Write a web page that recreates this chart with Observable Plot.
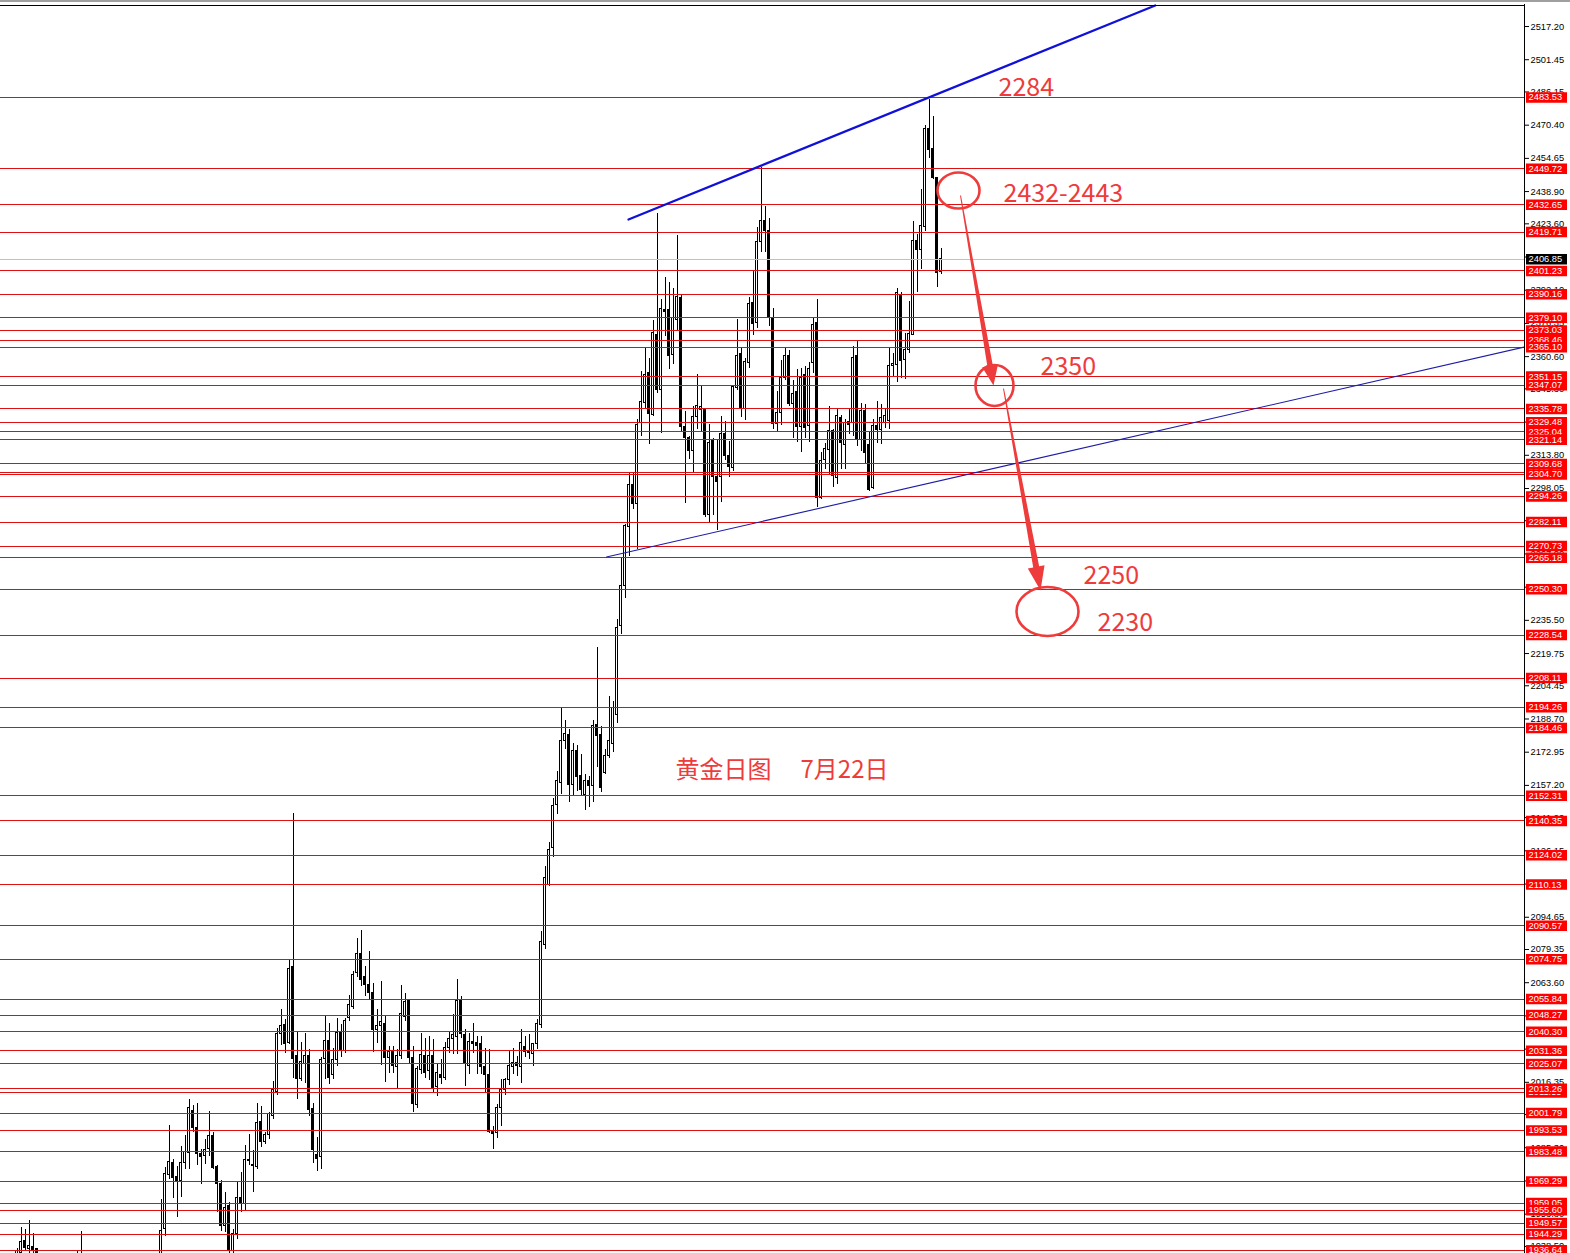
<!DOCTYPE html>
<html>
<head>
<meta charset="utf-8">
<script src="https://cdn.jsdelivr.net/npm/d3@7"></script>
<script src="https://cdn.jsdelivr.net/npm/@observablehq/plot@0.6"></script>
<style>
html, body { margin: 0; padding: 0; background: #fff; }
body {
  width: 1570px; height: 1253px; overflow: hidden;
  background: linear-gradient(to bottom, #a0a0a0 0, #a0a0a0 2px, #ffffff 2px, #ffffff 100%) no-repeat;
}
#chart svg { display: block; }
</style>
</head>
<body>
<div id="chart"></div>
<script>
// ---------- DATA ----------
// candle index (one per trading day, 4 px apart on the MT4 chart)
const candleIndex = [4,5,6,7,8,9,19,20,
  40,41,42,43,44,45,46,47,48,49,50,51,52,53,54,55,56,57,58,59,60,61,62,63,64,65,66,67,68,69,
  70,71,72,73,74,75,76,77,78,79,80,81,82,83,84,85,86,87,88,89,90,91,92,93,94,95,96,97,98,99,
  100,101,102,103,104,105,106,107,108,109,110,111,112,113,114,115,116,117,118,119,
  120,121,122,123,124,125,126,127,128,129,130,131,132,133,134,135,136,137,138,139,
  140,141,142,143,144,145,146,147,148,149,150,151,152,153,154,155,156,157,158,159,
  160,161,162,163,164,165,166,167,168,169,170,171,172,173,174,175,176,177,178,179,
  180,181,182,183,184,185,186,187,188,189,190,191,192,193,194,195,196,197,198,199,
  200,201,202,203,204,205,206,207,208,209,210,211,212,213,214,215,216,217,218,219,
  220,221,222,223,224,225,226,227,228,229,230,231,232,233,234,235];

const openPrice = [1926,1935.5,1941.1,1937.5,1938.2,1937.1,1928,1920,
  1922,1946.6,1972.2,1978,1971.6,1969.4,1978.3,1983.0,2002.8,1994.5,1982.3,1981.5,1984.6,1990.9,1976.4,1968.0,1948.2,1957.7,1936.3,1944.2,1961.7,1958.5,1979.6,1976.8,1976.4,1997.3,1987.8,1991.3,2000.5,2011.9,
  2039.3,2043.6,2035.0,2071.0,2028.7,2018.0,2025.0,2028.6,2003.8,1982.0,1981.0,2027.3,2036.0,2019.9,2027.0,2039.9,2031.4,2046.8,2052.3,2068.1,2077.3,2066.2,2062.6,2058.6,2041.2,2043.1,2043.9,2027.8,2030.5,2023.5,
  2028.6,2047.5,2055.0,2027.8,2005.6,2022.3,2028.9,2021.5,2028.9,2014.3,2019.9,2018.5,2032.5,2037.0,2038.0,2054.7,2038.8,2024.3,2035.4,2034.9,
  2034.6,2023.8,2019.9,1993.0,1992.2,2004.1,2012.8,2017.5,2023.8,2025.4,2023.8,2033.3,2030.9,2029.7,2034.4,2043.6,2081.6,2110.1,2127.5,2147.7,
  2158.3,2178.1,2181.3,2157.5,2173.7,2161.5,2152.5,2159.1,2156.8,2186.0,2180.9,2163.1,2171.0,2176.8,2190.7,2233.0,2252.0,2280.0,2299.8,2290.6,
  2329.0,2338.5,2352.7,2332.7,2370.9,2345.0,2382.8,2382.8,2361.4,2378.0,2388.3,2327.1,2321.9,2315.6,2332.2,2335.3,2335.6,2285.4,2320.5,2303.6,
  2303.6,2323.9,2313.6,2307.6,2345.5,2361.8,2335.6,2357.4,2386.1,2376.7,2415.0,2425.0,2420.0,2379.0,2328.6,2334.0,2350.7,2360.8,2338.0,2344.0,
  2327.3,2352.0,2327.5,2357.6,2376.5,2293.5,2311.7,2316.4,2325.2,2303.0,2331.5,2318.8,2329.4,2329.1,2360.7,2321.2,2334.6,2318.8,2298.3,2327.5,
  2325.9,2329.1,2329.9,2356.3,2356.8,2390.0,2359.1,2363.9,2371.0,2415.3,2411.3,2422.1,2468.5,2459.1,2445.3,2400.9];

const highPrice = [1937.5,1947.4,1946.5,1951.0,1944.6,1937.5,1936.5,1945.8,
  1960.9,1975.9,1995.7,1979.5,1976.4,1985.9,1991.3,2008.4,2005.2,2006.3,1984.6,1989.4,2002.4,1992.6,1977.0,1969.6,1964.0,1959.3,1946.6,1969.1,1973.6,1986.2,1991.8,1983.8,2006.3,2004.9,1992.6,2002.1,2016.6,2041.7,
  2050.7,2046.1,2074.1,2143.7,2040.1,2035.4,2039.6,2031.7,2006.5,1990.0,2028.0,2047.5,2044.4,2032.5,2046.8,2043.6,2046.8,2057.4,2068.9,2084.7,2088.2,2071.3,2078.4,2063.4,2050.7,2064.1,2047.5,2033.3,2033.3,2031.7,
  2062.1,2058.3,2055.5,2033.3,2023.8,2039.3,2037.3,2038.0,2036.5,2025.4,2027.0,2035.2,2040.0,2048.3,2065.2,2057.0,2041.2,2039.6,2044.4,2038.1,
  2038.1,2032.5,2031.7,1995.4,2005.6,2017.5,2018.0,2030.9,2032.5,2028.6,2041.2,2038.1,2038.8,2034.9,2046.0,2087.9,2118.8,2129.9,2151.2,2163.9,
  2194.2,2187.9,2183.6,2177.3,2176.2,2171.8,2162.6,2161.5,2187.9,2222.4,2185.2,2174.1,2199.4,2197.1,2235.8,2265.5,2280.8,2305.3,2305.6,2330.6,
  2353.5,2364.9,2359.9,2377.6,2428.6,2387.5,2398.3,2395.7,2393.1,2417.9,2389.4,2334.6,2322.7,2336.9,2352.2,2347.1,2336.0,2328.4,2322.0,2321.0,
  2332.1,2329.7,2320.2,2346.6,2378.2,2364.5,2359.8,2388.7,2401.0,2422.0,2450.2,2432.0,2426.0,2383.5,2343.9,2358.9,2364.5,2363.4,2349.5,2354.5,
  2355.0,2356.0,2358.0,2378.9,2387.6,2314.9,2319.6,2337.0,2325.9,2336.2,2332.6,2330.7,2335.4,2365.5,2367.8,2338.6,2337.8,2324.4,2330.7,2339.4,
  2337.8,2335.4,2364.7,2362.3,2392.7,2390.8,2371.8,2386.8,2424.7,2418.4,2440.1,2470.1,2482.8,2474.6,2445.8,2412.1];

const lowPrice = [1918,1930,1936,1935,1932,1925,1915,1912,
  1915,1943.4,1970.4,1961,1952.2,1961.5,1975.1,1975.1,1992.6,1976.7,1968.0,1977.2,1981.1,1975.1,1954.5,1945.8,1945.0,1932.0,1932.0,1941.9,1954.5,1955.3,1976.7,1964.0,1975.1,1985.4,1987.0,1989.4,1998.9,2010.3,
  2033.7,2029.8,2034.5,2018.2,2008.4,2016.7,2016.0,2000.1,1978.0,1974.0,1975.0,2017.5,2015.1,2017.5,2023.8,2028.0,2030.0,2045.0,2051.0,2066.0,2062.0,2057.0,2055.5,2030.5,2034.9,2024.1,2016.3,2020.7,2020.7,2013.6,
  2027.0,2045.0,2025.0,2002.0,2004.0,2020.0,2018.0,2017.0,2011.2,2009.6,2015.1,2017.0,2030.0,2029.4,2029.4,2037.0,2014.4,2019.9,2030.0,2019.9,
  2020.0,2011.5,1992.2,1984.3,1989.8,1995.4,2010.0,2015.0,2020.0,2019.1,2015.6,2028.0,2027.0,2023.8,2032.0,2042.0,2079.3,2109.3,2122.8,2143.3,
  2152.8,2174.1,2149.3,2152.0,2154.4,2152.0,2145.2,2146.5,2148.9,2165.5,2154.0,2162.3,2170.0,2172.6,2186.8,2229.0,2246.0,2265.8,2288.0,2268.9,
  2322.7,2336.1,2318.8,2332.2,2343.0,2324.3,2370.0,2354.3,2357.0,2372.5,2325.1,2291.1,2312.0,2305.3,2325.8,2325.0,2284.3,2281.5,2285.4,2278.3,
  2291.3,2311.5,2303.3,2306.0,2344.7,2331.8,2330.5,2355.0,2370.8,2374.0,2410.0,2410.0,2375.0,2325.8,2325.0,2328.0,2349.4,2336.8,2321.8,2320.0,
  2315.0,2322.0,2320.0,2352.8,2288.8,2292.7,2307.0,2304.6,2298.3,2300.0,2307.0,2307.0,2323.6,2322.8,2318.0,2315.6,2310.1,2296.7,2297.5,2319.6,
  2318.8,2326.7,2325.9,2350.9,2348.1,2350.4,2349.6,2362.3,2370.5,2390.8,2401.8,2420.0,2454.8,2444.8,2393.6,2399.5];

const closePrice = [1936.5,1940.6,1937.9,1938.5,1936.6,1932.0,1921,1930,
  1945.8,1972.8,1978.6,1971,1969.4,1978.3,1983.4,2004.4,1994.5,1982.3,1981.0,1984.3,1990.9,1975.9,1968.0,1948.2,1956.9,1936.3,1944.2,1961.7,1958.5,1979.6,1979.2,1977.2,1997.0,1988.1,1991.3,2001.3,2012.8,2039.3,
  2042.9,2034.5,2070.2,2027.4,2017.9,2026.0,2028.6,2003.3,1984.3,1980.0,2026.8,2036.0,2018.3,2027.0,2039.6,2031.4,2045.6,2053.1,2067.3,2077.3,2064.9,2062.6,2058.6,2041.2,2043.0,2044.8,2027.8,2030.5,2024.1,2028.6,
  2048.6,2054.3,2027.8,2006.1,2022.7,2029.4,2021.0,2028.9,2013.6,2020.7,2018.3,2032.5,2037.0,2038.9,2055.0,2039.3,2025.1,2035.4,2034.6,2033.6,
  2023.5,2019.6,1993.0,1991.9,2004.1,2012.8,2017.5,2024.1,2025.4,2024.1,2035.2,2030.9,2030.1,2034.4,2043.9,2083.1,2113.3,2126.7,2147.3,2159.1,
  2178.1,2181.7,2157.2,2173.4,2161.2,2155.2,2159.4,2156.8,2185.5,2180.5,2156.0,2171.0,2178.1,2193.9,2231.9,2251.6,2280.3,2299.8,2290.6,2328.2,
  2339.0,2352.0,2333.5,2372.0,2344.8,2383.3,2382.0,2361.0,2379.1,2389.1,2327.1,2321.9,2315.6,2332.2,2337.3,2336.5,2285.4,2319.4,2303.6,2301.2,
  2323.9,2313.6,2308.4,2346.0,2360.9,2335.6,2358.2,2385.5,2376.3,2415.0,2425.0,2420.0,2379.0,2328.6,2334.0,2350.7,2360.8,2338.0,2342.8,2327.3,
  2350.4,2326.7,2354.5,2375.7,2293.5,2310.9,2316.8,2325.2,2303.8,2332.3,2319.6,2329.1,2328.3,2359.9,2321.2,2334.6,2314.9,2297.5,2327.5,2325.9,
  2331.5,2332.3,2356.3,2357.2,2390.8,2358.3,2363.6,2371.5,2415.3,2411.3,2422.4,2468.5,2458.4,2445.3,2400.2,2406.85];

// horizontal price levels (red lines with red price labels), in drawing order
const levelPrices = [2483.53,2449.72,2432.65,2419.71,2401.23,2390.16,2379.10,2373.03,2368.46,2365.10,
  2351.15,2347.07,2335.78,2329.48,2325.04,2321.14,2309.68,2305.65,2304.70,2294.26,2282.11,2270.73,2265.18,
  2250.30,2228.54,2208.11,2194.26,2184.46,2152.31,2140.35,2124.02,2110.13,2090.57,2074.75,2055.84,2048.27,
  2040.30,2031.36,2025.07,2011.55,2013.26,2001.79,1993.53,1983.48,1969.29,1959.05,1955.60,1949.57,1944.29,1936.64];

// right-axis tick labels
const tickPrices = [2517.20,2501.45,2486.15,2470.40,2454.65,2438.90,2423.60,2407.85,2392.10,2376.35,2360.60,
  2345.30,2329.55,2313.80,2298.05,2282.75,2267.00,2251.25,2235.50,2219.75,2204.45,2188.70,2172.95,2157.20,
  2141.90,2126.15,2110.40,2094.65,2079.35,2063.60,2047.85,2032.10,2016.35,2001.05,1985.30,1969.55,1953.80,1938.50];

// trend lines (candle index, price)
const upperTrendIndex = [156.875, 288.55];
const upperTrendPrice = [2425.66, 2527.17];
const lowerTrendIndex = [151.375, 380.875];
const lowerTrendPrice = [2265.55, 2365.17];

// annotation anchors (candle index, price)
const ellipseIndex = [239.375, 248.375, 261.625];
const ellipsePrice = [2439.41, 2346.91, 2239.70];
const arrowTipIndex = [248.125, 259.875];
const arrowTipPrice = [2346.91, 2249.66];
const noteTexts = ["2284", "2432-2443", "2350", "2250", "2230"];
const noteIndex = [249.375, 250.625, 259.875, 270.625, 274.125];
const notePrice = [2488.0, 2437.75, 2355.45, 2256.77, 2234.47];
const titleTexts = ["黄金日图", "7月22日"];
const titleIndex = [168.625, 199.875];
const titlePrice = [2164.13, 2164.13];

// ---------- BUILD ----------
const candles = candleIndex.map((i, k) => ({i, open: openPrice[k], high: highPrice[k], low: lowPrice[k], close: closePrice[k]}));
const upCandles = candles.filter(d => d.close >= d.open);
const downCandles = candles.filter(d => d.close < d.open);
const bidPrice = closePrice[closePrice.length - 1];

const X_DOMAIN = [-0.125, 380.875];
const Y_DOMAIN = [1935.14, 2527.647];
const LABEL_X1 = 381.375, LABEL_X2 = 391.625, LABEL_TX = 381.9;
const NOTE_RED = "#ee3b3b";

function ellipseSymbol(rx, ry) {
  const k = 0.5522847;
  return {draw(c) {
    c.moveTo(rx, 0);
    c.bezierCurveTo(rx, ry * k, rx * k, ry, 0, ry);
    c.bezierCurveTo(-rx * k, ry, -rx, ry * k, -rx, 0);
    c.bezierCurveTo(-rx, -ry * k, -rx * k, -ry, 0, -ry);
    c.bezierCurveTo(rx * k, -ry, rx, -ry * k, rx, 0);
    c.closePath();
  }};
}
// tapered arrow drawn relative to its tip; (dx,dy) = vector from tip to tail in px
function arrowSymbol(dx, dy, headLen, headW, shaftW, tailW) {
  return {draw(c) {
    const L = Math.hypot(dx, dy), ux = dx / L, uy = dy / L, nx = -uy, ny = ux;
    const bx = ux * headLen, by = uy * headLen;
    const pts = [
      [0, 0],
      [bx + nx * headW / 2, by + ny * headW / 2],
      [bx + nx * shaftW / 2, by + ny * shaftW / 2],
      [dx + nx * tailW / 2, dy + ny * tailW / 2],
      [dx - nx * tailW / 2, dy - ny * tailW / 2],
      [bx - nx * shaftW / 2, by - ny * shaftW / 2],
      [bx - nx * headW / 2, by - ny * headW / 2]
    ];
    c.moveTo(pts[0][0], pts[0][1]);
    for (let j = 1; j < pts.length; j++) c.lineTo(pts[j][0], pts[j][1]);
    c.closePath();
  }};
}

const ellipseShapes = [[21, 18], [19, 20.5], [31, 24.5]];
const arrowShapes = [[-33, -190, 20, 16, 5.5, 1], [-37, -202, 24, 17, 6, 1]];

const upperTrend = upperTrendIndex.map((i, k) => ({i, p: upperTrendPrice[k]}));
const lowerTrend = lowerTrendIndex.map((i, k) => ({i, p: lowerTrendPrice[k]}));
const notes = noteTexts.map((t, k) => ({t, i: noteIndex[k], p: notePrice[k]}));
const titles = titleTexts.map((t, k) => ({t, i: titleIndex[k], p: titlePrice[k]}));

// one box + text per level, so later labels cover earlier ones (as on the MT4 price scale)
function priceLabel(price, color) {
  return [
    Plot.ruleY([price], {y: d => d, x1: () => LABEL_X1, x2: () => LABEL_X2, stroke: color, strokeWidth: 10.5}),
    Plot.text([price], {x: () => LABEL_TX, y: d => d, text: d => d.toFixed(2), textAnchor: "start", fill: "white", fontSize: 9.3})
  ];
}

const chart = Plot.plot({
  width: 1570,
  height: 1253,
  marginLeft: 0,
  marginRight: 46,
  marginTop: 4,
  marginBottom: 0,
  x: {domain: X_DOMAIN, axis: null},
  y: {domain: Y_DOMAIN},
  style: {background: "transparent", fontFamily: "Liberation Sans, Arial, sans-serif", fontSize: "9.3px", color: "black"},
  marks: [
    // candles
    Plot.ruleX(candles, {x: "i", y1: "low", y2: "high", stroke: "black", strokeWidth: 1, shapeRendering: "crispEdges", clip: true}),
    Plot.rect(upCandles, {x1: d => d.i - 0.25, x2: d => d.i + 0.25, y1: "open", y2: "close", fill: "white", stroke: "black", strokeWidth: 1, shapeRendering: "crispEdges", clip: true}),
    Plot.rect(downCandles, {x1: d => d.i - 0.25, x2: d => d.i + 0.25, y1: "open", y2: "close", fill: "black", stroke: "black", strokeWidth: 1, shapeRendering: "crispEdges", clip: true}),
    // horizontal levels
    Plot.ruleY(levelPrices, {y: d => d, stroke: "#dd1111", strokeWidth: 1, shapeRendering: "crispEdges"}),
    Plot.ruleY([bidPrice], {y: d => d, stroke: "#c0c0c0", strokeWidth: 1, shapeRendering: "crispEdges"}),
    // trend lines
    Plot.line(lowerTrend, {x: "i", y: "p", stroke: "#1c1ca6", strokeWidth: 1.1, clip: true}),
    Plot.line(upperTrend, {x: "i", y: "p", stroke: "#1010d8", strokeWidth: 2.2, clip: true}),
    // annotations
    ...ellipseIndex.map((i, k) => Plot.dot([{i, p: ellipsePrice[k]}], {x: "i", y: "p", symbol: ellipseSymbol(...ellipseShapes[k]), fill: "none", stroke: NOTE_RED, strokeWidth: 2.6})),
    ...arrowTipIndex.map((i, k) => Plot.dot([{i, p: arrowTipPrice[k]}], {x: "i", y: "p", symbol: arrowSymbol(...arrowShapes[k]), fill: NOTE_RED, stroke: "none"})),
    Plot.text(notes, {x: "i", y: "p", text: "t", textAnchor: "start", fill: NOTE_RED, fontSize: 25, fontFamily: "Noto Sans CJK SC, Noto Sans, sans-serif"}),
    Plot.text(titles, {x: "i", y: "p", text: "t", textAnchor: "start", fill: NOTE_RED, fontSize: 24, fontFamily: "Noto Sans CJK SC, sans-serif"}),
    // frame
    Plot.ruleY([Y_DOMAIN[1]], {y: d => d, stroke: "black", strokeWidth: 1, dy: 0.5, shapeRendering: "crispEdges"}),
    Plot.ruleX([X_DOMAIN[1]], {x: d => d, stroke: "black", strokeWidth: 1, shapeRendering: "crispEdges"}),
    // right axis
    Plot.axisY({anchor: "right", ticks: tickPrices, tickSize: 4, tickPadding: 2, tickFormat: d => d.toFixed(2), fill: "black", stroke: "black", fontSize: 9.3}),
    // price labels
    ...levelPrices.flatMap(p => priceLabel(p, "#ff0000")),
    ...priceLabel(bidPrice, "black")
  ]
});
document.getElementById("chart").append(chart);
</script>
</body>
</html>
